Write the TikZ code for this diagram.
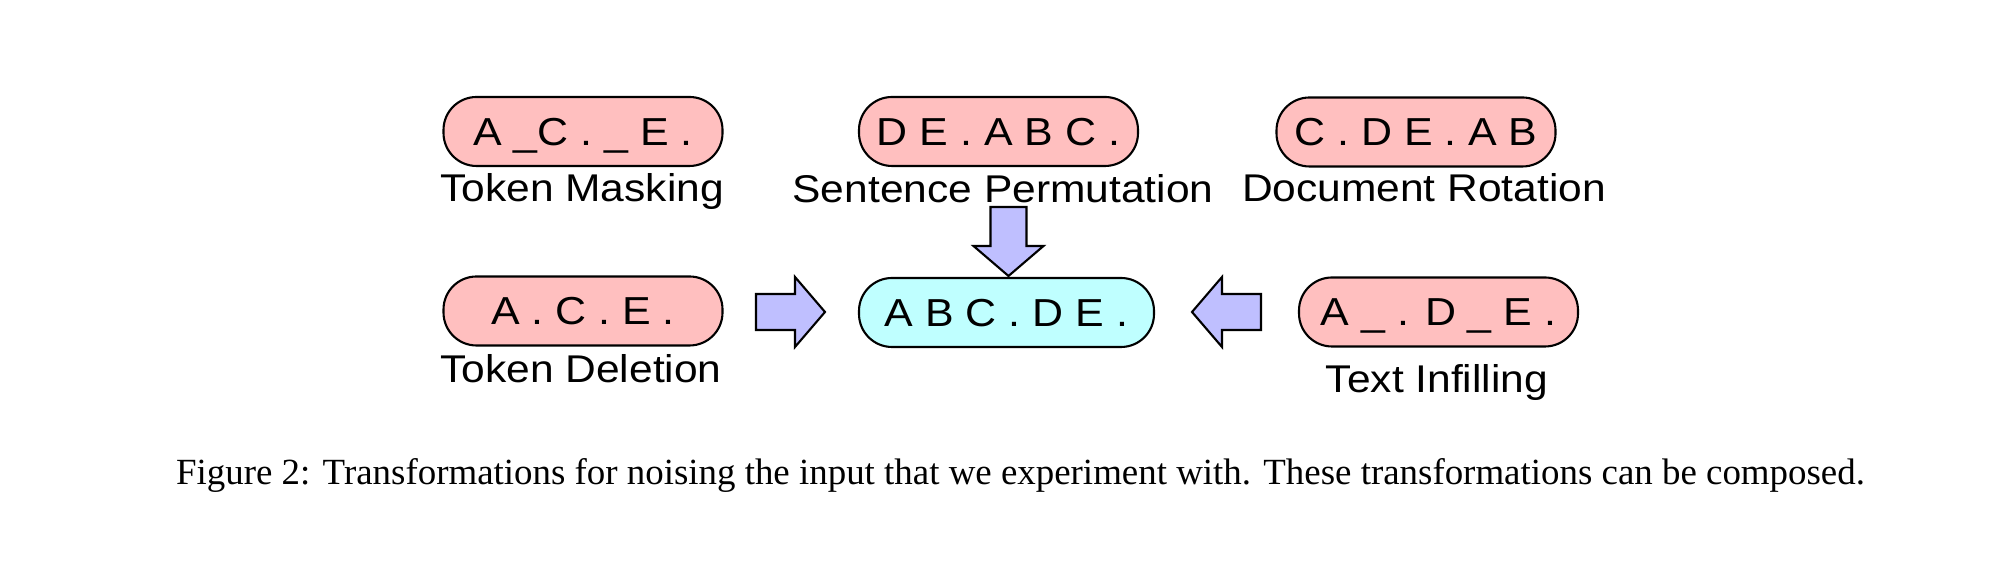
\documentclass[tikz,border=0pt]{standalone}
\usepackage{fontspec}
\setmainfont{Liberation Serif}
\newfontfamily\diagfont[FakeStretch=1.1]{Liberation Sans}
\usepackage{xcolor}
\definecolor{noisePink}{RGB}{255,191,191}
\definecolor{cleanCyan}{RGB}{191,255,255}
\definecolor{arrowLilac}{RGB}{191,191,255}
\usepackage{tikz}
\usetikzlibrary{positioning, calc}

\tikzset{
    pill/.style={draw=black, line width=0.6pt, rounded corners=0.33cm,
        minimum width=2.79cm, minimum height=0.69cm, inner sep=0pt,
        text height=7.95pt, text depth=0pt,
        font=\diagfont\fontsize{11.1pt}{13pt}\selectfont},
    noisy/.style={pill, fill=noisePink},
    clean/.style={pill, fill=cleanCyan, minimum width=2.95cm},
    lbl/.style={font=\diagfont\fontsize{11pt}{13pt}\selectfont, anchor=base, inner sep=0pt},
    bigarrow/.pic={
        \draw[fill=arrowLilac, line width=0.6pt, line join=miter]
            (0,-0.18) -- (0.39,-0.18) -- (0.39,-0.35) -- (0.69,0)
            -- (0.39,0.35) -- (0.39,0.18) -- (0,0.18) -- cycle;
    }
}

\begin{document}
\begin{tikzpicture}
    \useasboundingbox (0,0) rectangle (20.12,5.64);

    % ══ Fila superior ══
    \node[noisy] (mask) at (5.83, 4.325) {A \_C . \_ E .};
    \node[lbl] (maskl) at (5.82, 3.62) {Token Masking};

    \node[noisy] (perm) at (9.985, 4.325) {D E . A B C .};
    \node[lbl] (perml) at (10.03, 3.61) {Sentence Permutation};

    \node[noisy] (rot) at (14.16, 4.32) {C . D E . A B};
    \node[lbl] (rotl) at (14.24, 3.62) {Document Rotation};

    % ══ Fila inferior ══
    \node[noisy] (del) at (5.83, 2.53) {A . C . E .};
    \node[lbl] (dell) at (5.81, 1.81) {Token Deletion};

    \node[clean] (orig) at (10.065, 2.515) {A B C . D E .};

    \node[noisy] (infill) at (14.385, 2.52) {A \_ . D \_ E .};
    \node[lbl] (infilll) at (14.37, 1.71) {Text Infilling};

    % ══ Flechas ══
    \coordinate (downTail) at (10.085, 3.57);
    \coordinate (rightTail) at (7.56, 2.52);
    \coordinate (leftTail) at (12.61, 2.52);
    \pic[rotate=-90] at (downTail) {bigarrow};
    \pic at (rightTail) {bigarrow};
    \pic[rotate=180] at (leftTail) {bigarrow};

    % Leyenda
    \node[font=\fontsize{10.5pt}{12pt}\selectfont, anchor=base, inner sep=0pt] (cap) at (10.205, 0.79)
        {Figure 2: Transformations for noising the input that we experiment with. These transformations can be composed.};

\end{tikzpicture}
\end{document}
